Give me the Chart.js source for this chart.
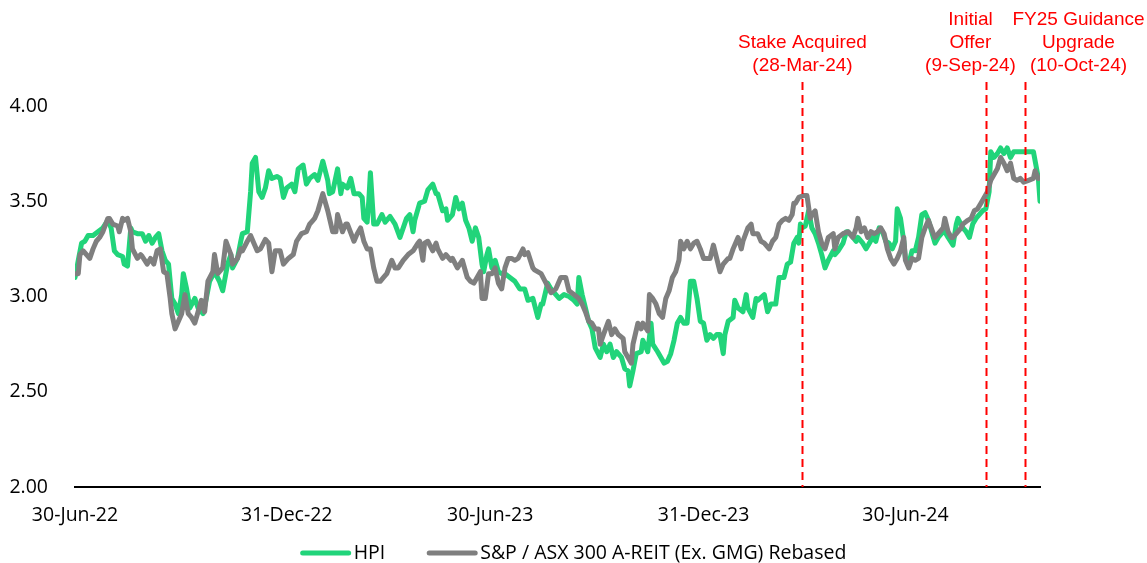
<!DOCTYPE html>
<html><head><meta charset="utf-8">
<script src="https://cdn.jsdelivr.net/npm/chart.js@4.4.1/dist/chart.umd.min.js"></script>
<style>html,body{margin:0;padding:0;background:#fff;}#wrap{width:1147px;height:563px;}</style>
</head><body><div id="wrap"><canvas id="c" width="1147" height="563"></canvas></div>
<script>
// x unit: trading days since 30-Jun-22
const tickDays = [0, 129, 253, 383, 506];
const tickLabels = ['30-Jun-22', '31-Dec-22', '30-Jun-23', '31-Dec-23', '30-Jun-24'];
const yTicks = [2.0, 2.5, 3.0, 3.5, 4.0];
const seriesNames = ['HPI', 'S&P / ASX 300 A-REIT (Ex. GMG) Rebased'];
const eventDays = [443, 555, 579];
const eventLabels = [['Stake Acquired', '(28-Mar-24)'], ['Initial', 'Offer', '(9-Sep-24)'], ['FY25 Guidance', 'Upgrade', '(10-Oct-24)']];

const hpiDays = [0,2,4,6,8,11,14,17,20,22,24,26,29,30,32,34,35,38,41,43,45,47,49,51,53,55,57,59,61,63,65,66,68,70,73,75,78,80,82,85,88,90,93,95,96,99,101,102,105,107,108,110,112,114,116,118,120,123,125,127,129,132,134,136,139,141,143,146,148,151,154,155,157,160,162,163,166,168,170,173,175,176,178,179,180,182,184,187,189,192,195,198,200,202,204,206,207,210,213,215,218,220,221,224,226,227,230,232,234,236,238,240,242,244,246,248,249,251,252,254,256,258,260,262,265,268,271,274,276,279,282,284,285,288,290,293,295,298,301,304,306,307,309,311,313,315,317,320,322,324,326,328,330,333,335,337,338,340,342,345,346,349,351,352,355,357,359,361,363,365,367,369,371,373,375,377,379,381,383,385,387,389,391,393,395,396,398,401,402,404,407,409,410,413,415,416,420,422,424,427,429,432,434,436,438,440,441,442,443,445,447,449,451,453,455,457,459,462,463,465,468,470,471,474,476,477,480,482,484,486,488,490,492,494,496,498,500,501,503,505,506,508,510,512,514,516,518,520,523,524,526,529,530,532,535,537,538,541,543,545,547,549,551,553,555,557,558,560,562,564,566,568,570,572,576,580,584,587,588];
const hpiValues = [3.10,3.19,3.28,3.29,3.32,3.32,3.34,3.36,3.40,3.36,3.24,3.22,3.21,3.17,3.16,3.36,3.34,3.33,3.33,3.29,3.32,3.28,3.31,3.33,3.24,3.19,3.17,2.99,2.96,2.91,3.01,3.12,3.04,2.94,2.99,2.94,2.91,2.99,3.08,3.13,3.08,3.03,3.17,3.22,3.15,3.20,3.29,3.33,3.34,3.55,3.70,3.73,3.55,3.52,3.57,3.66,3.62,3.63,3.62,3.52,3.57,3.59,3.55,3.67,3.69,3.59,3.62,3.64,3.61,3.71,3.61,3.54,3.55,3.67,3.54,3.59,3.57,3.62,3.54,3.54,3.52,3.41,3.39,3.50,3.65,3.38,3.38,3.43,3.39,3.42,3.38,3.31,3.36,3.41,3.43,3.34,3.40,3.49,3.50,3.56,3.59,3.54,3.54,3.45,3.46,3.40,3.43,3.52,3.46,3.49,3.40,3.36,3.29,3.36,3.31,3.17,3.13,3.22,3.25,3.15,3.19,3.13,3.12,3.12,3.10,3.08,3.04,3.04,2.98,2.99,2.89,2.96,2.96,3.07,3.04,3.01,2.99,3.01,3.00,2.98,2.96,3.10,3.01,2.94,2.87,2.83,2.73,2.68,2.75,2.71,2.75,2.68,2.71,2.68,2.62,2.61,2.53,2.61,2.70,2.71,2.77,2.71,2.86,2.75,2.71,2.68,2.65,2.66,2.70,2.77,2.86,2.89,2.86,2.86,3.08,3.08,2.99,2.87,2.86,2.77,2.80,2.78,2.80,2.80,2.70,2.80,2.87,2.89,2.98,2.94,2.92,3.01,2.94,2.89,2.99,2.98,3.01,2.92,2.96,2.96,3.10,3.10,3.17,3.18,3.28,3.31,3.28,3.38,3.36,3.37,3.45,3.36,3.33,3.28,3.22,3.15,3.19,3.24,3.22,3.24,3.28,3.34,3.34,3.31,3.29,3.31,3.28,3.25,3.28,3.31,3.29,3.36,3.34,3.29,3.28,3.25,3.29,3.46,3.41,3.29,3.20,3.17,3.24,3.24,3.31,3.43,3.44,3.40,3.31,3.28,3.31,3.34,3.34,3.31,3.27,3.38,3.41,3.36,3.34,3.31,3.38,3.41,3.43,3.45,3.46,3.55,3.76,3.73,3.75,3.78,3.75,3.78,3.73,3.76,3.76,3.76,3.76,3.62,3.50];

const reitDays = [0,2,3,5,7,9,11,13,15,17,20,21,23,26,27,29,30,32,34,35,38,40,41,44,46,48,50,52,54,56,58,59,61,63,65,67,69,71,73,75,77,79,81,84,85,87,90,92,95,96,99,101,102,105,107,109,111,113,116,118,120,122,125,127,130,133,135,138,141,143,145,146,148,151,154,157,159,160,163,165,166,170,172,174,176,178,180,182,184,186,188,190,193,195,197,200,203,206,209,210,212,213,215,218,220,221,224,226,229,230,233,236,239,241,243,245,247,248,250,252,254,256,258,260,262,264,266,268,270,273,274,276,279,280,284,287,290,293,296,299,301,304,307,309,311,313,315,317,319,320,322,325,327,329,331,334,335,337,339,340,343,345,346,349,350,352,354,356,358,360,362,364,366,368,369,371,373,375,377,379,381,383,385,387,389,391,393,395,398,399,401,404,406,407,410,412,413,416,418,420,423,425,427,429,431,433,435,437,438,439,441,444,446,448,449,451,453,455,457,459,462,463,465,468,471,474,476,477,479,481,483,485,487,489,491,493,495,497,499,501,503,505,506,508,510,512,514,516,518,520,523,524,526,529,530,532,534,535,538,540,541,544,546,548,550,552,554,556,558,560,562,564,566,568,570,572,574,576,578,581,584,585,587];
const reitValues = [3.12,3.12,3.22,3.24,3.22,3.20,3.25,3.29,3.31,3.34,3.41,3.41,3.38,3.37,3.34,3.41,3.40,3.41,3.34,3.25,3.20,3.22,3.21,3.17,3.20,3.17,3.24,3.25,3.13,3.12,2.99,2.91,2.83,2.87,2.91,3.01,2.91,2.89,2.86,2.92,2.98,2.92,3.08,3.13,3.22,3.12,3.15,3.29,3.22,3.17,3.20,3.25,3.24,3.29,3.32,3.28,3.24,3.25,3.30,3.28,3.13,3.24,3.24,3.17,3.20,3.22,3.29,3.33,3.34,3.38,3.40,3.41,3.45,3.54,3.45,3.34,3.34,3.43,3.34,3.38,3.38,3.29,3.33,3.36,3.29,3.25,3.25,3.15,3.08,3.08,3.10,3.12,3.19,3.15,3.15,3.19,3.22,3.24,3.28,3.29,3.19,3.28,3.29,3.24,3.28,3.25,3.20,3.22,3.19,3.20,3.15,3.19,3.10,3.08,3.07,3.10,3.13,2.99,2.99,3.12,3.12,3.15,3.07,3.04,3.15,3.20,3.20,3.19,3.20,3.25,3.22,3.23,3.15,3.14,3.12,3.07,3.02,3.04,3.10,3.10,3.03,3.01,2.99,2.96,2.92,2.87,2.86,2.83,2.83,2.75,2.80,2.87,2.80,2.83,2.80,2.78,2.71,2.68,2.65,2.75,2.86,2.83,2.86,2.82,3.01,2.99,2.96,2.91,2.89,2.99,3.03,3.10,3.13,3.19,3.29,3.25,3.29,3.25,3.28,3.29,3.25,3.20,3.20,3.20,3.27,3.20,3.13,3.17,3.20,3.20,3.25,3.31,3.25,3.29,3.36,3.38,3.33,3.33,3.29,3.28,3.25,3.29,3.31,3.38,3.40,3.41,3.40,3.43,3.49,3.49,3.52,3.53,3.53,3.41,3.43,3.45,3.34,3.28,3.25,3.31,3.33,3.25,3.31,3.33,3.34,3.31,3.36,3.41,3.34,3.36,3.31,3.34,3.33,3.34,3.36,3.33,3.25,3.20,3.17,3.20,3.24,3.31,3.19,3.15,3.20,3.19,3.20,3.31,3.36,3.40,3.33,3.31,3.33,3.36,3.41,3.34,3.31,3.31,3.34,3.36,3.38,3.40,3.41,3.45,3.46,3.49,3.52,3.55,3.61,3.64,3.67,3.73,3.70,3.66,3.70,3.62,3.61,3.62,3.60,3.61,3.62,3.66,3.62];

const GREEN = '#21D47A';
const GREY = '#7F7F7F';
const TEXT_FONT = "'Open Sans', sans-serif";
const TEXT_SIZE = 19.5;

const toPoints = (days, vals) => days.map((d, i) => ({ x: d, y: vals[i] }));

const eventPlugin = {
  id: 'events',
  afterDatasetsDraw(chart) {
    const { ctx, chartArea, scales } = chart;
    const dx = [0, -16, 53];
    ctx.save();
    eventDays.forEach((d, i) => {
      const x = Math.round(scales.x.getPixelForValue(d)) + 0.5;
      ctx.strokeStyle = '#FF0000';
      ctx.lineWidth = 2;
      ctx.setLineDash([8, 5]);
      ctx.beginPath();
      ctx.moveTo(x, chartArea.top - 24);
      ctx.lineTo(x, chartArea.bottom);
      ctx.stroke();
      ctx.setLineDash([]);
      ctx.fillStyle = '#FF0000';
      ctx.font = "19px 'Liberation Sans', Arial, sans-serif";
      ctx.textAlign = 'center';
      ctx.textBaseline = 'middle';
      const lines = eventLabels[i];
      lines.forEach((t, j) => {
        ctx.fillText(t, x + dx[i], 66 - (lines.length - 1 - j) * 23);
      });
    });
    ctx.restore();
  }
};

const legendPlugin = {
  id: 'customLegend',
  afterDraw(chart) {
    const { ctx } = chart;
    const colors = [GREEN, GREY];
    ctx.save();
    ctx.font = TEXT_SIZE + 'px ' + TEXT_FONT;
    const sw = 50, gapText = 3, gapItem = 42;
    const widths = seriesNames.map(t => ctx.measureText(t).width);
    const total = widths.reduce((a, w) => a + sw + gapText + w, 0) + gapItem * (seriesNames.length - 1);
    let x = (chart.width - total) / 2;
    const y = 553;
    seriesNames.forEach((t, i) => {
      ctx.strokeStyle = colors[i];
      ctx.lineWidth = 5;
      ctx.lineCap = 'round';
      ctx.beginPath();
      ctx.moveTo(x + 2, y);
      ctx.lineTo(x + sw - 2, y);
      ctx.stroke();
      ctx.fillStyle = '#000';
      ctx.textAlign = 'left';
      ctx.textBaseline = 'middle';
      ctx.fillText(t, x + sw + gapText, y);
      x += sw + gapText + widths[i] + gapItem;
    });
    ctx.restore();
  }
};

new Chart(document.getElementById('c'), {
  type: 'line',
  data: {
    datasets: [
      { label: seriesNames[0], data: toPoints(hpiDays, hpiValues), borderColor: GREEN, backgroundColor: GREEN, borderWidth: 5, pointRadius: 0, tension: 0, borderJoinStyle: 'round', borderCapStyle: 'round', order: 1 },
      { label: seriesNames[1], data: toPoints(reitDays, reitValues), borderColor: GREY, backgroundColor: GREY, borderWidth: 5, pointRadius: 0, tension: 0, borderJoinStyle: 'round', borderCapStyle: 'round', order: 0 }
    ]
  },
  options: {
    responsive: false,
    devicePixelRatio: 1,
    animation: false,
    events: [],
    layout: { padding: { left: 0, right: 107, top: 106, bottom: 0 } },
    plugins: { legend: { display: false }, tooltip: { enabled: false } },
    scales: {
      x: {
        type: 'linear', min: 0, max: 588,
        afterBuildTicks: s => { s.ticks = tickDays.map(v => ({ value: v })); },
        afterFit: s => { s.height = 76; },
        grid: { display: false, drawTicks: false },
        border: { display: true, color: '#000', width: 2 },
        ticks: { autoSkip: false, maxRotation: 0, padding: 17, color: '#000', font: { family: TEXT_FONT, size: TEXT_SIZE },
          callback: (v, i) => tickLabels[i] }
      },
      y: {
        min: 2, max: 4,
        afterBuildTicks: s => { s.ticks = yTicks.map(v => ({ value: v })); },
        afterFit: s => { s.width = 75; },
        grid: { display: false, drawTicks: false },
        border: { display: false },
        ticks: { padding: 27, color: '#000', font: { family: TEXT_FONT, size: TEXT_SIZE }, callback: v => Number(v).toFixed(2) }
      }
    }
  },
  plugins: [eventPlugin, legendPlugin]
});
</script>
</body></html>
